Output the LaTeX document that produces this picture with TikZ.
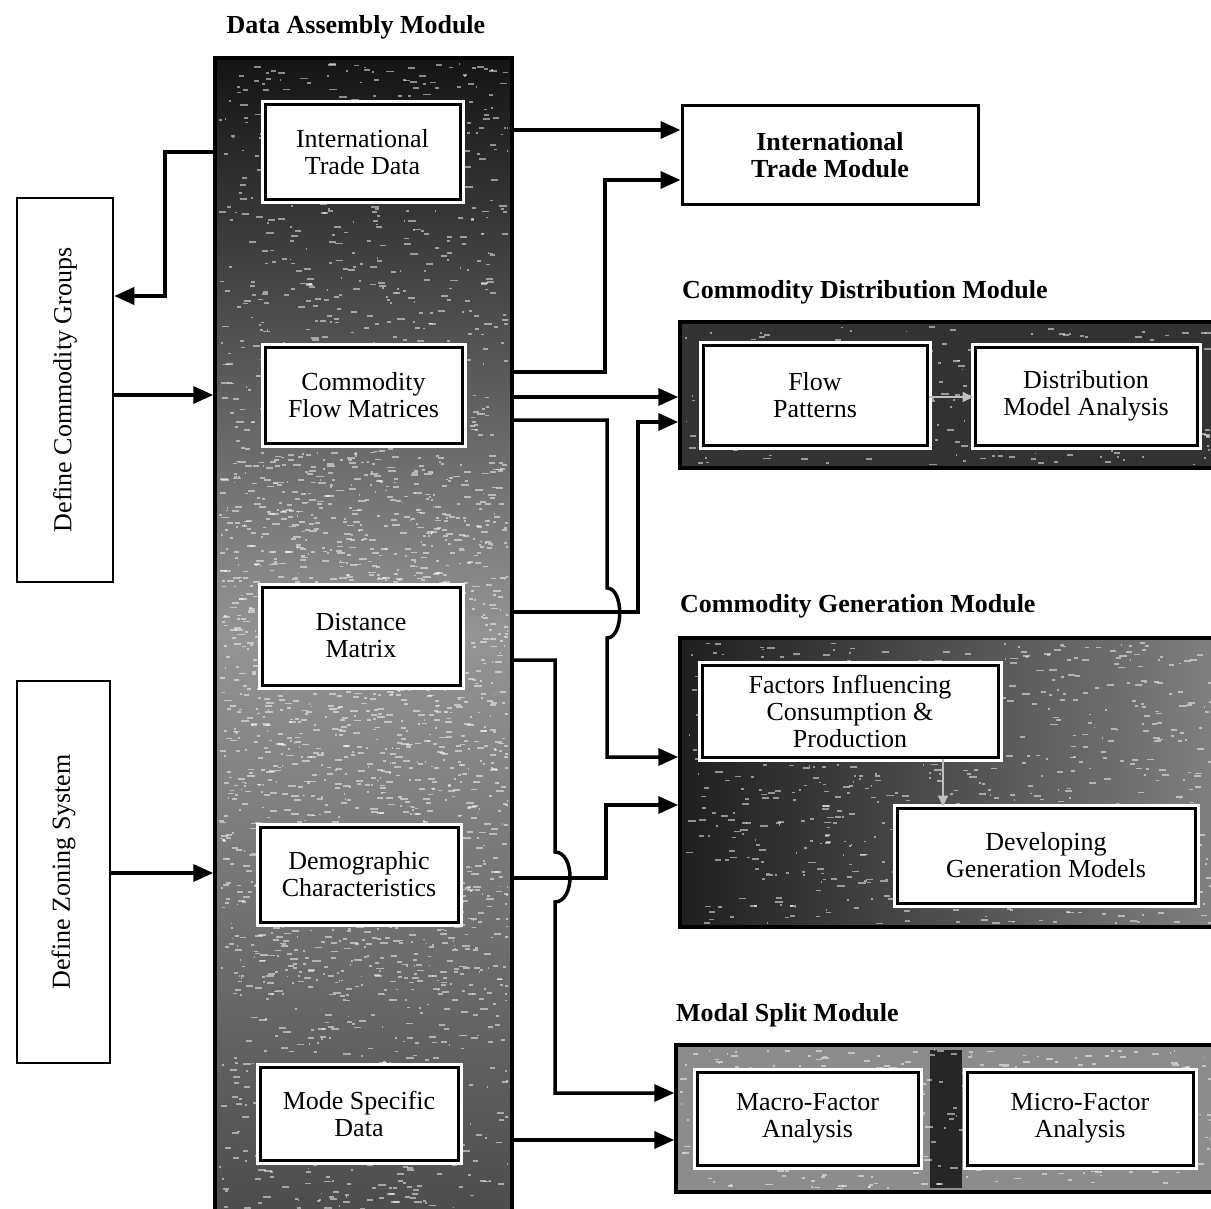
\documentclass[tikz,border=0pt]{standalone}
\usepackage{fontspec}
\setmainfont{Liberation Serif}
\usetikzlibrary{arrows.meta}
\newcommand{\myspeckles}[5]{%
  \begin{scope}
  \clip (#1,#2) rectangle (#3,#4);
  \foreach \k in {1,...,#5}{%
    \pgfmathsetmacro{\spx}{#1+rnd*(#3-#1)}%
    \pgfmathsetmacro{\spy}{#2+rnd*(#4-#2)}%
    \pgfmathsetmacro{\spw}{1+rnd*7}%
    \fill[white,opacity=0.5] (\spx,\spy) rectangle ++(\spw,1.8);
  }
  \end{scope}}
\tikzset{
  conn/.style={line width=3.5pt, draw=black},
  arr/.style={conn, -{Triangle[length=20pt,width=17pt]}},
  txt/.style={align=center, font=\fontsize{26}{27}\selectfont},
  inbox/.style={txt, draw=black, fill=white, line width=3pt, preaction={draw=white,line width=9pt}, inner sep=0pt},
  sidebox/.style={draw=black, fill=white, line width=2.5pt, inner sep=0pt},
  ttl/.style={font=\bfseries\fontsize{26}{27}\selectfont, inner sep=0pt},
  panel/.style={draw=black, line width=3.5pt, inner sep=0pt},
  innerarr/.style={draw=black!25, line width=2pt, -{Triangle[length=11pt,width=10pt]}}
}
\begin{document}
\begin{tikzpicture}[x=1pt,y=-1pt]
\pgfmathsetseed{7}
\useasboundingbox (0,0) rectangle (1211,1209);
\fill[white] (0,0) rectangle (1211,1209);

% titles
\node[ttl] (tdam) at (356,27) {Data Assembly Module};
\node[ttl, anchor=west] (tcdm) at (682,292) {Commodity Distribution Module};
\node[ttl, anchor=west] (tcgm) at (680,606) {Commodity Generation Module};
\node[ttl, anchor=west] (tmsm) at (676,1015) {Modal Split Module};

% panels
\node[panel, minimum width=297, minimum height=1157, top color=black!92, bottom color=black!70, middle color=black!42] (dam) at (363.5,636.5) {};
\node[panel, minimum width=535, minimum height=146, fill=black!80] (cdm) at (947.5,395) {};
\node[panel, minimum width=535, minimum height=289, left color=black!88, right color=black!50] (cgm) at (947.5,782.5) {};
\node[panel, minimum width=539, minimum height=147, fill=black!45] (msm) at (945.5,1118.5) {};
\fill[black!85] (930,1050) rectangle (962,1188);

\myspeckles{219}{62}{508}{1209}{1800}
\myspeckles{219}{450}{508}{1000}{900}
\myspeckles{684}{326}{1211}{464}{300}
\myspeckles{684}{642}{1211}{923}{700}
\myspeckles{680}{1049}{1211}{1188}{400}

% side boxes
\node[sidebox, minimum width=96, minimum height=384] (dcg) at (65,390) {};
\node[txt, rotate=90] (dcgt) at (dcg.center) {Define Commodity Groups};
\node[sidebox, minimum width=93, minimum height=382] (dzs) at (63.5,872) {};
\node[txt, rotate=90] (dzst) at (dzs.center) {Define Zoning System};

% data assembly inner boxes
\node[inbox, minimum width=195, minimum height=95] (itd) at (362.5,152.5) {International\\Trade Data};
\node[inbox, minimum width=197, minimum height=96] (cfm) at (363.5,395) {Commodity\\Flow Matrices};
\node[inbox, minimum width=198, minimum height=98] (dm) at (361,636) {Distance\\Matrix};
\node[inbox, minimum width=198, minimum height=95] (dc) at (359,874.5) {Demographic\\Characteristics};
\node[inbox, minimum width=198, minimum height=93] (msd) at (359,1113.5) {Mode Specific\\Data};

% right modules
\node[txt, draw=black, fill=white, line width=3pt, inner sep=0pt, minimum width=296, minimum height=99, font=\bfseries\fontsize{26}{27}\selectfont] (itm) at (830,155.5) {International\\Trade Module};
\node[inbox, minimum width=224, minimum height=100] (fp) at (815,395) {Flow\\Patterns};
\node[inbox, minimum width=222, minimum height=98] (dma) at (1086,396) {Distribution\\Model Analysis};
\node[inbox, minimum width=296, minimum height=92] (fic) at (850,711) {Factors Influencing\\Consumption \&\\Production};
\node[inbox, minimum width=298, minimum height=95] (dgm) at (1046,855.5) {Developing\\Generation Models};
\node[inbox, minimum width=221, minimum height=93] (mfa) at (807.5,1118.5) {Macro-Factor\\Analysis};
\node[inbox, minimum width=226, minimum height=93] (mifa) at (1080,1118.5) {Micro-Factor\\Analysis};

% internal arrows
\draw[innerarr] (fp.east |- 0,397) -- (dma.west |- 0,397);
\draw[innerarr] (fic.south -| 943,0) -- (dgm.north -| 943,0);

% connectors right
\draw[arr] (dam.east |- 0,130) -- (itm.west |- 0,130);
\draw[arr] (dam.east |- 0,372) -- (605,372) -- (605,180) -- (itm.west |- 0,180);
\draw[arr] (dam.east |- 0,397) -- (cdm.west |- 0,397);
\draw[arr] (dam.east |- 0,420) -- (607,420) -- (607,588) .. controls (624,588) and (624,638) .. (607,638) -- (607,757) -- (cgm.west |- 0,757);
\draw[arr] (dam.east |- 0,612) -- (638,612) -- (638,422) -- (cdm.west |- 0,422);
\draw[arr] (dam.east |- 0,660) -- (555,660) -- (555,852) .. controls (575,852) and (575,902) .. (555,902) -- (555,1093) -- (msm.west |- 0,1093);
\draw[arr] (dam.east |- 0,878) -- (606,878) -- (606,805) -- (cgm.west |- 0,805);
\draw[arr] (dam.east |- 0,1140) -- (msm.west |- 0,1140);

% connectors left
\draw[arr] (dam.west |- 0,152) -- (165,152) -- (165,296) -- (dcg.east |- 0,296);
\draw[arr] (dcg.east |- 0,395) -- (dam.west |- 0,395);
\draw[arr] (dzs.east |- 0,873) -- (dam.west |- 0,873);
\end{tikzpicture}
\end{document}
